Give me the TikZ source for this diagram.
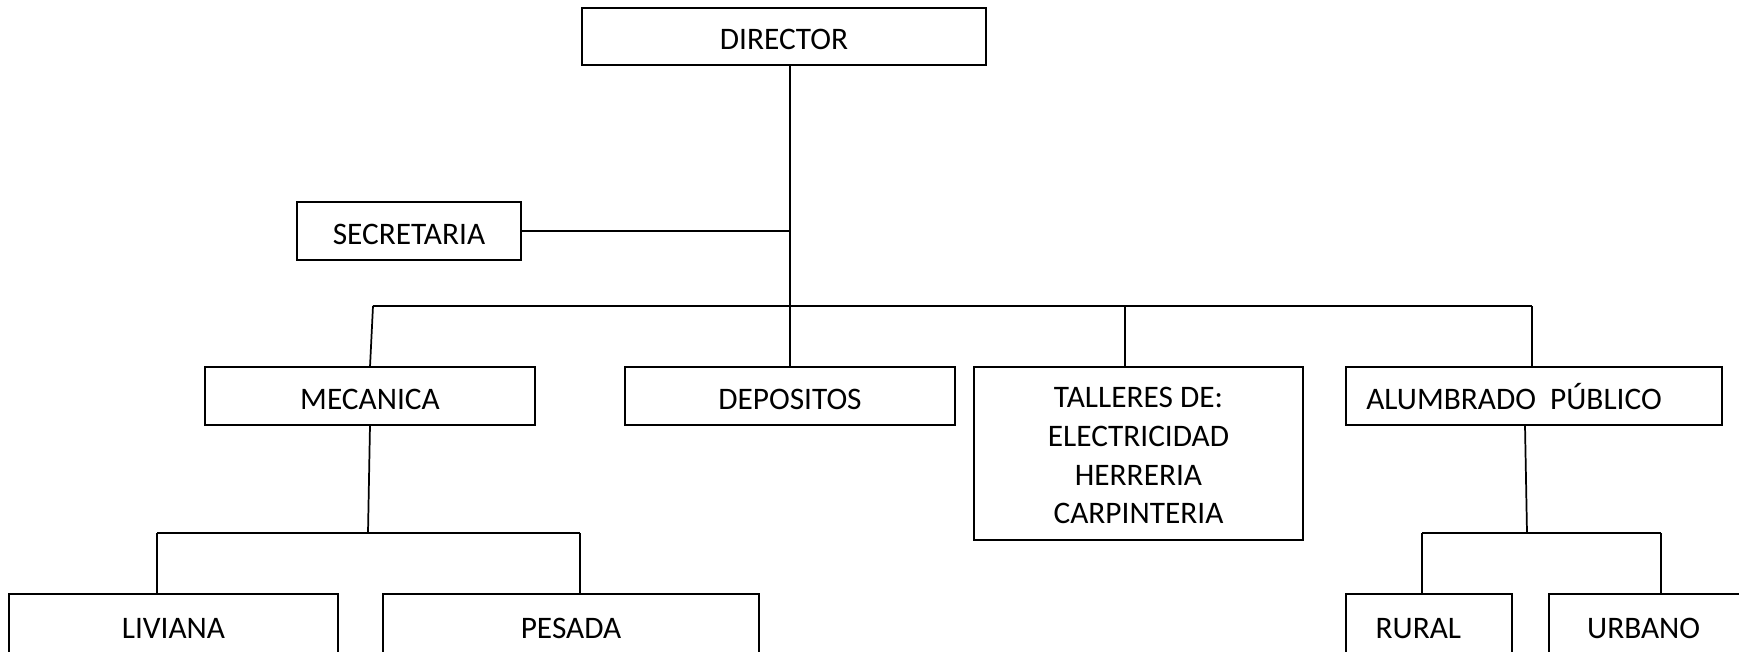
\documentclass[tikz,border=0pt]{standalone}
\usepackage{fontspec}
\setmainfont{Carlito}
\newcommand\myhstrut[1]{\rule{0pt}{#1}}
\begin{document}
\begin{tikzpicture}[x=0.75pt,y=-0.75pt,
  box/.style 2 args={draw, line width=1.5pt, inner sep=0pt, outer sep=0pt,
    minimum width=#1*0.75pt, minimum height=#2*0.75pt, align=center,
    font=\fontsize{23.5pt}{29pt}\selectfont},
  conn/.style={line width=1.3pt}]
\useasboundingbox (0,0) rectangle (1739,651);
\clip (0,0) rectangle (1739,651);
% boxes
\node[box={404}{57}] (dir) at (784,36.5) {\myhstrut{20pt}DIRECTOR};
\node[box={224}{58}] (sec) at (409,231) {\myhstrut{20pt}SECRETARIA};
\node[box={330}{58}] (mec) at (370,396) {\myhstrut{20pt}MECANICA};
\node[box={330}{58}] (dep) at (790,396) {\myhstrut{20pt}DEPOSITOS};
\node[box={329}{173}] (tal) at (1138.5,453.5) {\myhstrut{18.5pt}TALLERES DE:\\ELECTRICIDAD\\HERRERIA\\CARPINTERIA};
\node[box={376}{58}] (alu) at (1534,396) {};
\node[anchor=west, inner sep=0pt, font=\fontsize{23.5pt}{29pt}\selectfont] (alut) at (1366,397) {ALUMBRADO\ \ PÚBLICO};
\node[box={329}{62}] (liv) at (173.5,625) {\myhstrut{20pt}LIVIANA};
\node[box={376}{62}] (pes) at (571,625) {\myhstrut{20pt}PESADA};
\node[box={166}{62}] (rur) at (1429,625) {\myhstrut{20pt}RURAL\hspace*{16pt}};
\node[box={196}{62}] (urb) at (1647,625) {\myhstrut{20pt}URBANO\hspace*{5pt}};
% connector coordinates
\coordinate (bl) at (373,306);
\coordinate (br) at (1532,306);
\coordinate (tc) at (1125,306);
\coordinate (mb) at (368,533);
\coordinate (lb) at (157,533);
\coordinate (rb) at (580,533);
\coordinate (ad) at (1527,533);
\coordinate (ab) at (1422,533);
\coordinate (ae) at (1661,533);
% connectors
\draw[conn] (dir.south -| dep.north) -- (dep.north);
\draw[conn] (sec.east) -- (sec.east -| dep.north);
\draw[conn] (bl) -- (br);
\draw[conn] (bl) -- (mec.north);
\draw[conn] (tc) -- (tc |- tal.north);
\draw[conn] (br) -- (br |- alu.north);
\draw[conn] (mec.south) -- (mb);
\draw[conn] (lb) -- (rb);
\draw[conn] (lb) -- (lb |- liv.north);
\draw[conn] (rb) -- (rb |- pes.north);
\draw[conn] (ad |- alu.south) ++(-2,0) -- (ad);
\draw[conn] (ab) -- (ae);
\draw[conn] (ab) -- (ab |- rur.north);
\draw[conn] (ae) -- (ae |- urb.north);
\end{tikzpicture}
\end{document}
